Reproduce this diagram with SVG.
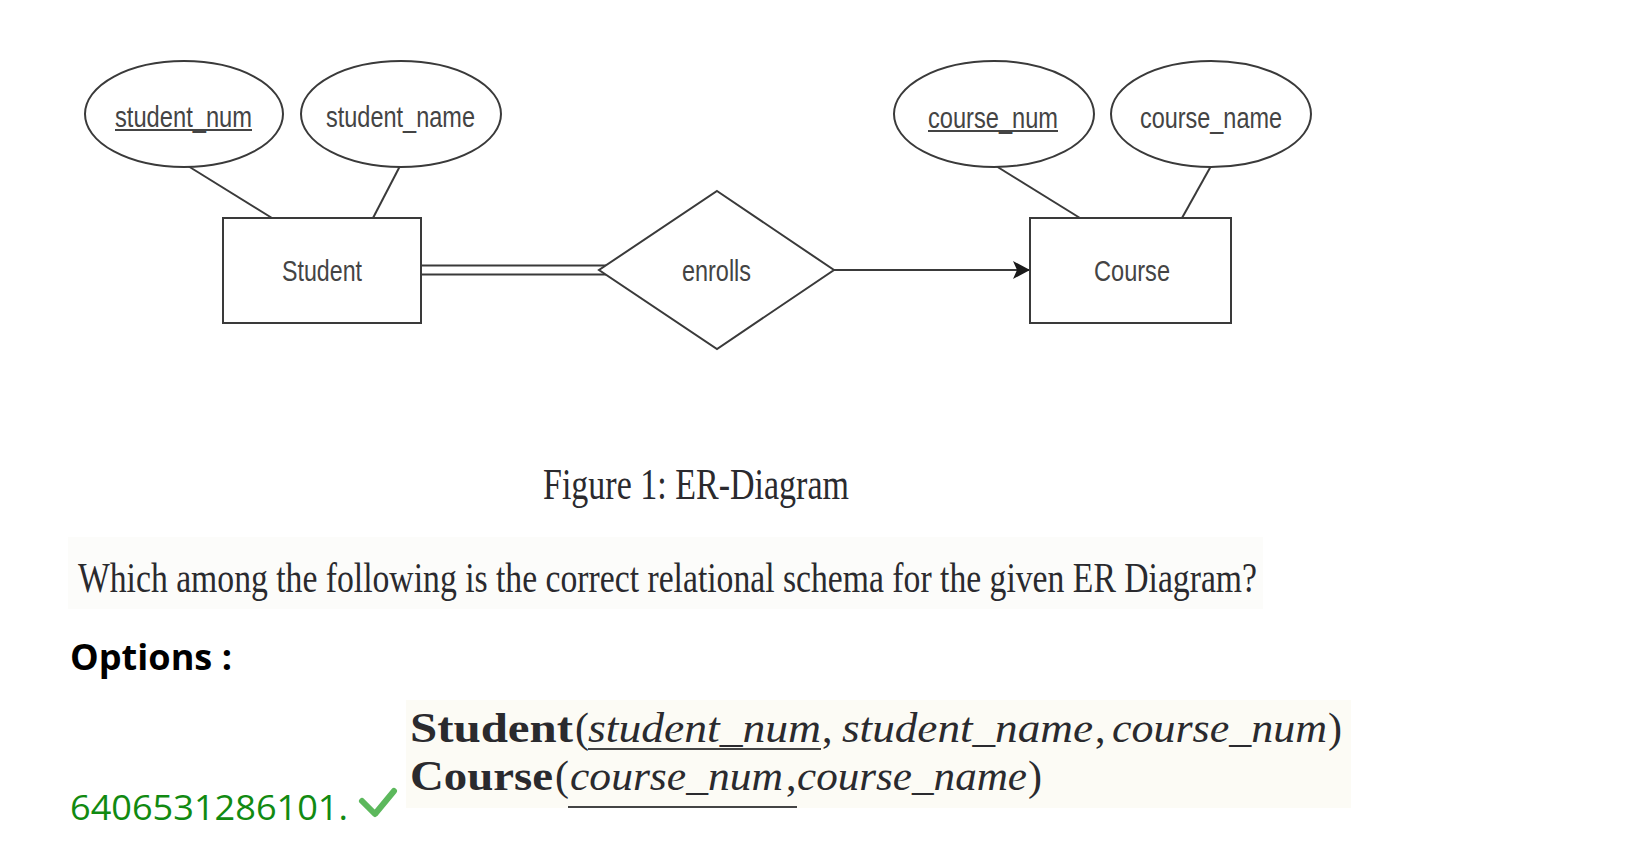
<svg xmlns="http://www.w3.org/2000/svg" width="1637" height="841" viewBox="0 0 1637 841">
<style>
.shape{fill:#ffffff;stroke:#3a3a3a;stroke-width:2}
.conn{stroke:#3a3a3a;stroke-width:2;fill:none}
.er{font-family:"Liberation Sans",Arial,sans-serif;font-size:30px;fill:#444444}
.ul{stroke:#444444;stroke-width:2}
.tex{font-family:"Liberation Serif","Times New Roman",serif;fill:#2a2a2e}
.it{font-style:italic}
.bd{font-weight:bold}
.ui{font-family:"Open Sans","Noto Sans",sans-serif}
</style>
<defs>
<marker id="arrow" viewBox="0 0 17 18" refX="17" refY="9" markerWidth="17" markerHeight="18" markerUnits="userSpaceOnUse" orient="auto">
<path d="M0,0 L17,9 L0,18 L4,9 Z" fill="#1a1a1a"/>
</marker>
</defs>
<rect width="1637" height="841" fill="#ffffff"/>

<g id="connectors">
<line class="conn" x1="188" y1="166" x2="272" y2="218"/>
<line class="conn" x1="400" y1="166" x2="373" y2="218"/>
<line class="conn" x1="996" y1="166" x2="1080" y2="218"/>
<line class="conn" x1="1211" y1="166" x2="1182" y2="218"/>
<line class="conn" x1="422" y1="265.5" x2="606" y2="265.5"/>
<line class="conn" x1="422" y1="274.5" x2="606" y2="274.5"/>
<line class="conn" x1="834" y1="270" x2="1030" y2="270" marker-end="url(#arrow)"/>
</g>

<g id="attr-student_num">
<ellipse class="shape" cx="184" cy="114" rx="99" ry="53"/>
<text class="er" x="115" y="127" textLength="137" lengthAdjust="spacingAndGlyphs">student_num</text>
<line class="ul" x1="115" y1="130" x2="252" y2="130"/>
</g>
<g id="attr-student_name">
<ellipse class="shape" cx="401" cy="114" rx="100" ry="53"/>
<text class="er" x="326" y="127" textLength="149" lengthAdjust="spacingAndGlyphs">student_name</text>
</g>
<g id="entity-student">
<rect class="shape" x="223" y="218" width="198" height="105"/>
<text class="er" x="282" y="281" textLength="80" lengthAdjust="spacingAndGlyphs">Student</text>
</g>
<g id="rel-enrolls">
<polygon class="shape" points="717,191 834,270 717,349 599,270"/>
<text class="er" x="682" y="281" textLength="69" lengthAdjust="spacingAndGlyphs">enrolls</text>
</g>
<g id="attr-course_num">
<ellipse class="shape" cx="994" cy="114" rx="100" ry="53"/>
<text class="er" x="928" y="128" textLength="130" lengthAdjust="spacingAndGlyphs">course_num</text>
<line class="ul" x1="928" y1="131" x2="1058" y2="131"/>
</g>
<g id="attr-course_name">
<ellipse class="shape" cx="1211" cy="114" rx="100" ry="53"/>
<text class="er" x="1140" y="128" textLength="142" lengthAdjust="spacingAndGlyphs">course_name</text>
</g>
<g id="entity-course">
<rect class="shape" x="1030" y="218" width="201" height="105"/>
<text class="er" x="1094" y="281" textLength="76" lengthAdjust="spacingAndGlyphs">Course</text>
</g>

<g id="caption">
<text class="tex" x="543" y="499" font-size="44" textLength="306" lengthAdjust="spacingAndGlyphs" fill="#2e2e2e">Figure 1: ER-Diagram</text>
</g>

<g id="question">
<rect x="68" y="537" width="1195" height="72" fill="#fcfcfa"/>
<text class="tex" x="78" y="592" font-size="43" textLength="1179" lengthAdjust="spacingAndGlyphs" fill="#333333">Which among the following is the correct relational schema for the given ER Diagram?</text>
</g>

<g id="options-label">
<text class="ui" x="70" y="670" font-size="35" font-weight="bold" fill="#000000" textLength="162" lengthAdjust="spacingAndGlyphs">Options :</text>
</g>

<g id="option">
<text class="ui" x="70" y="820" font-size="35" fill="#118a11" textLength="278" lengthAdjust="spacingAndGlyphs">6406531286101.</text>
<path d="M362,801 L375,814 L394,791" fill="none" stroke="#5cb85c" stroke-width="6" stroke-linejoin="round" stroke-linecap="round"/>
<rect x="406" y="700" width="945" height="108" fill="#fcfbf5"/>
<text class="tex bd" x="410" y="742" font-size="42" textLength="163" lengthAdjust="spacingAndGlyphs">Student</text>
<text class="tex" x="575" y="742" font-size="42">(</text>
<text class="tex it" x="588" y="742" font-size="42" textLength="233" lengthAdjust="spacingAndGlyphs">student_num</text>
<text class="tex" x="822" y="742" font-size="42">,</text>
<text class="tex it" x="842" y="742" font-size="42" textLength="251" lengthAdjust="spacingAndGlyphs">student_name</text>
<text class="tex" x="1095" y="742" font-size="42">,</text>
<text class="tex it" x="1112" y="742" font-size="42" textLength="215" lengthAdjust="spacingAndGlyphs">course_num</text>
<text class="tex" x="1328" y="742" font-size="42">)</text>
<line class="ul" x1="588" y1="749" x2="821" y2="749" stroke="#2a2a2e"/>
<text class="tex bd" x="410" y="790" font-size="42" textLength="143" lengthAdjust="spacingAndGlyphs">Course</text>
<text class="tex" x="555" y="790" font-size="42">(</text>
<text class="tex it" x="570" y="790" font-size="42" textLength="213" lengthAdjust="spacingAndGlyphs">course_num</text>
<text class="tex" x="786" y="790" font-size="42">,</text>
<text class="tex it" x="797" y="790" font-size="42" textLength="230" lengthAdjust="spacingAndGlyphs">course_name</text>
<text class="tex" x="1028" y="790" font-size="42">)</text>
<line class="ul" x1="568" y1="807" x2="797" y2="807" stroke="#2a2a2e"/>
</g>
</svg>
